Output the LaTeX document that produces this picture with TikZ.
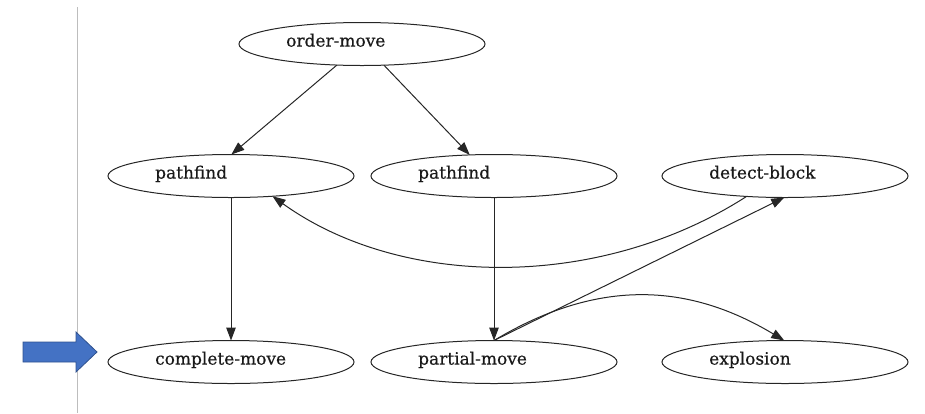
\documentclass[tikz,border=0pt]{standalone}
\usepackage{fontspec}
\setmainfont{DejaVu Serif}
\newfontfamily\statefont[FakeBold=0.5]{DejaVu Serif}
\usetikzlibrary{arrows.meta,shapes.geometric}

\definecolor{edgegray}{HTML}{262626}
\definecolor{railgray}{HTML}{BDBDBD}
\definecolor{pointerfill}{HTML}{4472C4}
\definecolor{pointeredge}{HTML}{2F528F}

\tikzset{
  state/.style={ellipse, draw=edgegray, line width=1pt, minimum width=246pt,
    minimum height=43pt, inner sep=0pt, outer sep=0pt},
  statetext/.style={anchor=mid west, inner sep=0pt, text=black!90,
    font=\statefont\fontsize{17}{20}\selectfont},
  flow/.style={draw=edgegray, line width=1pt,
    -{Triangle[length=13pt,width=9.5pt]}},
}

\begin{document}
\begin{tikzpicture}[x=1pt, y=-1pt]
  \useasboundingbox (0,0) rectangle (925,413);

  % margin rule and pointer
  \draw[railgray, line width=1pt] (77,7) -- (77,413);
  \draw[fill=pointerfill, draw=pointeredge, line width=0.8pt, line join=miter]
    (23,342) -- (76,342) -- (76,332) -- (97,352) -- (76,372) -- (76,362)
    -- (23,362) -- cycle;

  % states
  \node[state] (om) at (362,44)  {};
  \node[state] (pf1) at (231,176) {};
  \node[state] (pf2) at (494,176) {};
  \node[state] (db) at (785,176) {};
  \node[state] (cm) at (231,362) {};
  \node[state] (pm) at (494,362) {};
  \node[state] (ex) at (785,362) {};

  % state labels
  \node[statetext] (omt) at ([xshift=47pt]om.west) {order-move};
  \node[statetext] (pf1t) at ([xshift=47pt]pf1.west) {pathfind};
  \node[statetext] (pf2t) at ([xshift=47pt]pf2.west) {pathfind};
  \node[statetext] (dbt) at ([xshift=47pt]db.west) {detect-block};
  \node[statetext] (cmt) at ([xshift=47pt]cm.west) {complete-move};
  \node[statetext] (pmt) at ([xshift=47pt]pm.west) {partial-move};
  \node[statetext] (ext) at ([xshift=47pt]ex.west) {explosion};

  % transitions
  \draw[flow] (om.220) -- (pf1.89);
  \draw[flow] (om.-44) -- (pf2.139);
  \draw[flow] (pf1.south) -- (cm.north);
  \draw[flow] (pf2.south) -- (pm.north);
  \draw[flow] (db.208) .. controls +(-148,95) and +(128,92) .. (pf1.-26);
  \draw[flow] (pm.north) -- (db.268);
  \draw[flow] (pm.north) .. controls +(100,-60) and +(-100,-60) .. (ex.92);
\end{tikzpicture}
\end{document}
